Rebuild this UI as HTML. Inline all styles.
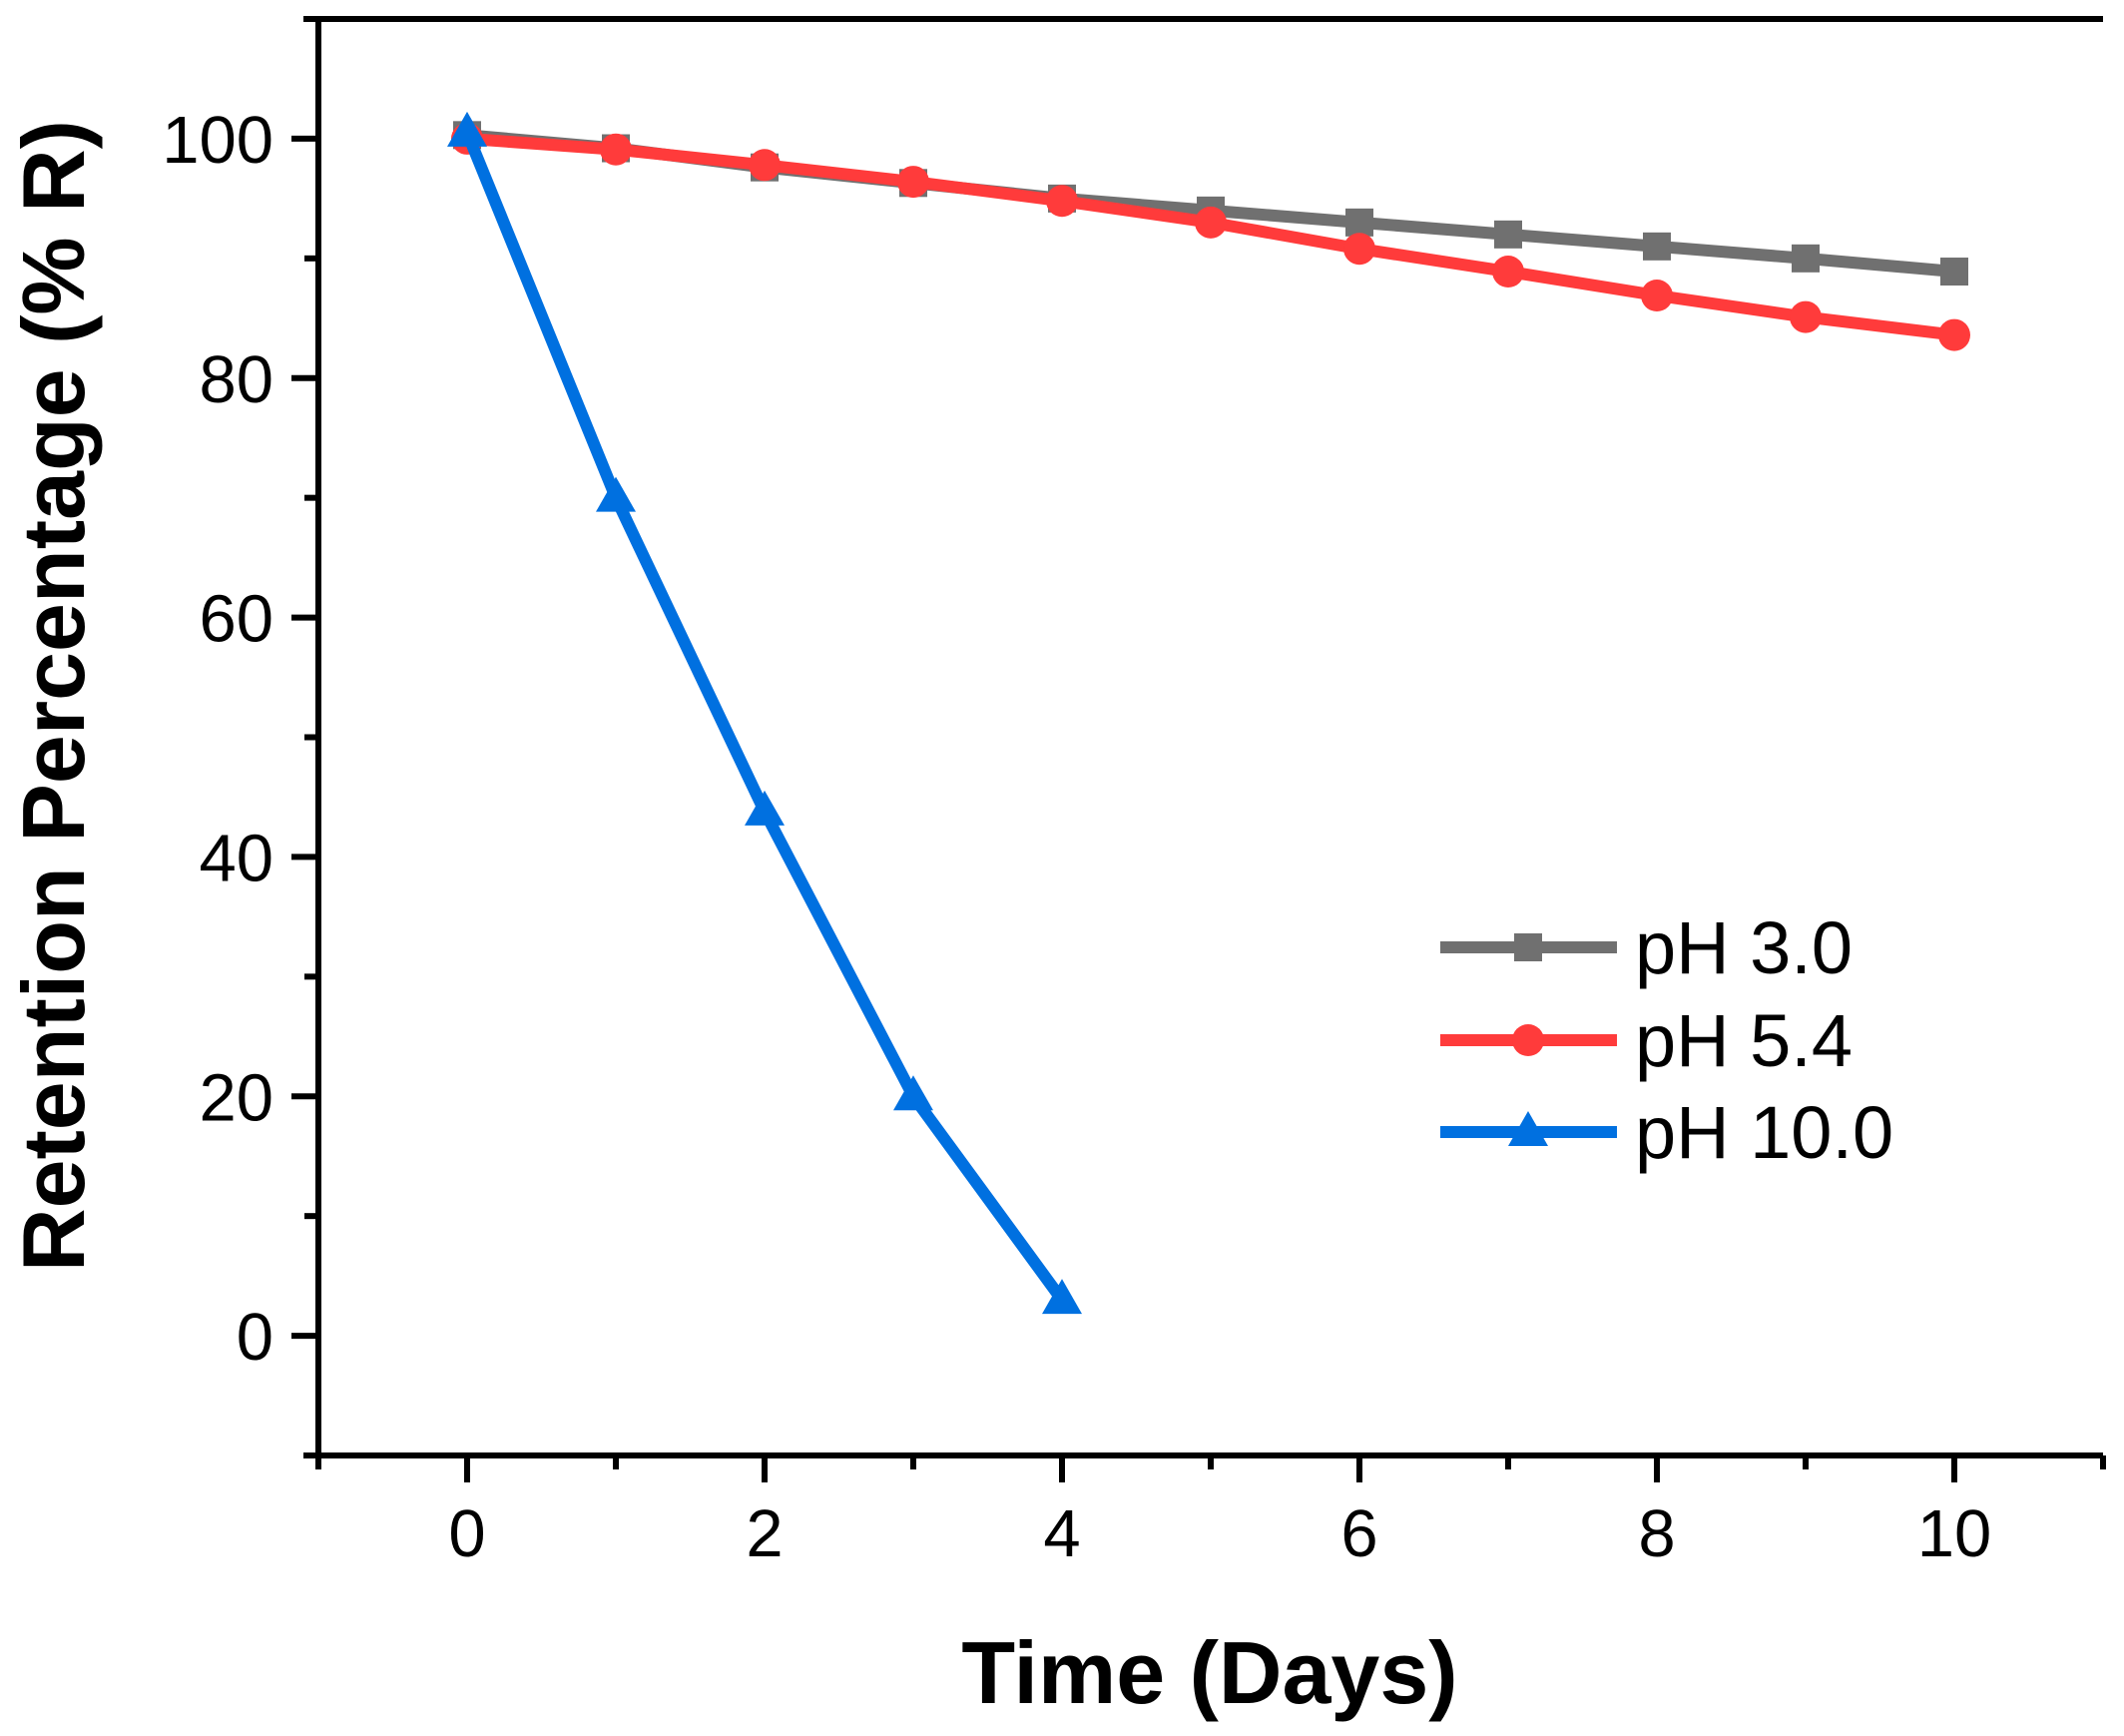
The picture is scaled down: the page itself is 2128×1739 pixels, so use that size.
<!DOCTYPE html>
<html><head><meta charset="utf-8"><style>
html,body{margin:0;padding:0;background:#fff;}
svg{display:block;font-family:"Liberation Sans",Arial,sans-serif;}
</style></head><body>
<svg id="chart" width="2128" height="1739" viewBox="0 0 2128 1739" xmlns="http://www.w3.org/2000/svg">
<g id="axes"></g>
<g id="series"></g>
<g id="legend"></g>
<text x="1212" y="1706" font-size="88" font-weight="bold" text-anchor="middle">Time (Days)</text>
<text transform="translate(84,697) rotate(-90)" font-size="88" font-weight="bold" text-anchor="middle">Retention Percentage (% R)</text>
</svg>
<script>
const days = [0,1,2,3,4,5,6,7,8,9,10];
const ph3 = [100.3,99.2,97.6,96.3,95.0,94.0,93.0,92.0,91.0,90.0,88.9];
const ph54 = [100,99.1,97.8,96.4,94.8,93.0,90.8,88.9,86.9,85.1,83.6];
const daysBlue = [0,1,2,3,4];
const ph10 = [100.5,70,43.8,20,3];
const xTicks = [0,2,4,6,8,10];
const yTicks = [0,20,40,60,80,100];
const seriesNames = ["pH 3.0","pH 5.4","pH 10.0"];

const NS="http://www.w3.org/2000/svg";
const X0=319,X1=2107,Y0=1458,Y1=19;
const xMin=-1,xMax=11,yMin=-10,yMax=110;
const sx=v=>X0+(v-xMin)/(xMax-xMin)*(X1-X0);
const sy=v=>Y0-(v-yMin)/(yMax-yMin)*(Y0-Y1);
function mk(tag,attrs,parent){const e=document.createElementNS(NS,tag);for(const k in attrs)e.setAttribute(k,attrs[k]);parent.appendChild(e);return e;}
const axes=document.getElementById('axes');
let a=mk('path',{d:`M${X0-15} ${Y1} H${X1} M${X0} ${Y1} V${Y0} M${X0-15} ${Y0} H${X1} M${X1} ${Y0} V${Y0+10}`,stroke:'#000','stroke-width':6,fill:'none'},axes);


for(let v=-1;v<=11;v++){
  const major=xTicks.includes(v);
  const t=mk('line',{x1:sx(v),x2:sx(v),y1:Y0,y2:Y0+(major?27:14),stroke:'#000','stroke-width':6},axes);
  
  
}
xTicks.forEach(v=>{const t=mk('text',{x:sx(v),y:Y0+101,'font-size':67,'text-anchor':'middle'},axes);t.textContent=v;
  
  });
for(let v=-10;v<=110;v+=10){
  const major=yTicks.includes(v);
  const t=mk('line',{x1:X0,x2:X0-(major?27:14),y1:sy(v),y2:sy(v),stroke:'#000','stroke-width':6},axes);
  
  
}
yTicks.forEach(v=>{const t=mk('text',{x:X0-45,y:sy(v)+24,'font-size':67,'text-anchor':'end'},axes);t.textContent=v;
  
  });

const ser=document.getElementById('series');
function marker(type,x,y,color,parent){
  let m;
  if(type==='square') m=mk('rect',{x:x-14,y:y-14,width:28,height:28,fill:color},parent);
  else if(type==='circle') m=mk('circle',{cx:x,cy:y,r:16,fill:color},parent);
  else m=mk('polygon',{points:`${x},${y-21} ${x+20},${y+14} ${x-20},${y+14}`,fill:color},parent);
  return m;
}
function drawSeries(xs,ys,color,type,name){
  const g=mk('g',{},ser);
  
  
  const l=mk('polyline',{points:xs.map((x,i)=>sx(x)+','+sy(ys[i])).join(' '),fill:'none',stroke:color,'stroke-width':12,'stroke-linejoin':'round'},g);
  
  
  xs.forEach((x,i)=>{const m=marker(type,sx(x),sy(ys[i]),color,g);
    
    });
}
drawSeries(days,ph3,'#707070','square','series-ph3');
drawSeries(days,ph54,'#ff3b3b','circle','series-ph54');
drawSeries(daysBlue,ph10,'#0070e0','triangle','series-ph10');

const leg=document.getElementById('legend');
const legColors=['#707070','#ff3b3b','#0070e0'],legTypes=['square','circle','triangle'],legY=[949,1042,1134];
seriesNames.forEach((n,i)=>{
  const g=mk('g',{},leg);
  
  
  mk('line',{x1:1443,x2:1620,y1:legY[i],y2:legY[i],stroke:legColors[i],'stroke-width':12},g);
  marker(legTypes[i],1531,legY[i],legColors[i],g);
  const t=mk('text',{x:1638,y:legY[i]+26,'font-size':74},g);t.textContent=n;
});
</script>
</body></html>
